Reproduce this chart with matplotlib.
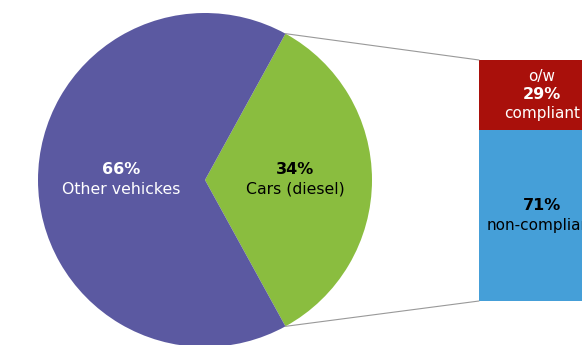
import numpy as np
import matplotlib.pyplot as plt
from matplotlib.patches import ConnectionPatch

pie_labels = ['Cars (diesel)', 'Other vehickes']
pie_shares = [34, 66]
pie_colors = ['#8abd3f', '#5b59a1']
pie_text_colors = ['black', 'white']

bar_labels = ['non-compliant', 'compliant']
bar_shares = [71, 29]
bar_colors = ['#459fd8', '#a9100b']
bar_text_colors = ['black', 'white']

W, H = 582, 345
fig = plt.figure(figsize=(W / 100, H / 100), dpi=100)

# pie axes in pixel-like units
ax = fig.add_axes([0, 0, 1, 1])
cx, cy, r = 205, 165, 167
half = pie_shares[0] * 360 / 100 / 2
ax.pie(pie_shares, colors=pie_colors, startangle=-half, center=(cx, cy),
       radius=r, wedgeprops=dict(linewidth=0))
ax.set_xlim(0, W)
ax.set_ylim(0, H)
ax.set_aspect('equal')
ax.axis('off')

# wedge labels at the middle angle of each slice
start = -half
for share, label, tc, dist in zip(pie_shares, pie_labels, pie_text_colors, [0.54, 0.5]):
    mid = np.deg2rad(start + share * 360 / 100 / 2)
    start += share * 360 / 100
    tx = cx + dist * r * np.cos(mid)
    ty = cy + dist * r * np.sin(mid)
    ax.text(tx, ty + 10, f'{share}%', ha='center', va='center', color=tc,
            fontsize=11.5, fontweight='bold')
    ax.text(tx, ty - 9, label, ha='center', va='center', color=tc,
            fontsize=11.3)

# stacked breakdown bar
ax2 = fig.add_axes([479 / W, 44 / H, 126 / W, 241 / H])
bottom = 0
for share, label, col, tc in zip(bar_shares, bar_labels, bar_colors, bar_text_colors):
    ax2.bar(0, share, bottom=bottom, width=1, color=col, linewidth=0)
    mid = bottom + share / 2
    if label == 'compliant':
        ax2.text(0, mid + 7.5, 'o/w', ha='center', va='center', color=tc, fontsize=11)
        ax2.text(0, mid, f'{share}%', ha='center', va='center', color=tc,
                 fontsize=11.5, fontweight='bold')
        ax2.text(0, mid - 7.5, label, ha='center', va='center', color=tc, fontsize=11)
    else:
        ax2.text(0, mid + 4, f'{share}%', ha='center', va='center', color=tc,
                 fontsize=11.5, fontweight='bold')
        ax2.text(0, mid - 4, label, ha='center', va='center', color=tc, fontsize=11)
    bottom += share
ax2.set_xlim(-0.5, 0.5)
ax2.set_ylim(0, sum(bar_shares))
ax2.axis('off')

# connector lines from the diesel slice to the bar
theta = np.deg2rad(half)
for sign, ybar in [(1, sum(bar_shares)), (-1, 0)]:
    px = cx + r * np.cos(theta)
    py = cy + sign * r * np.sin(theta)
    con = ConnectionPatch(xyA=(-0.5, ybar), coordsA=ax2.transData,
                          xyB=(px, py), coordsB=ax.transData,
                          color='#999999', linewidth=0.8)
    fig.add_artist(con)

fig.savefig('out.png', dpi=100)
